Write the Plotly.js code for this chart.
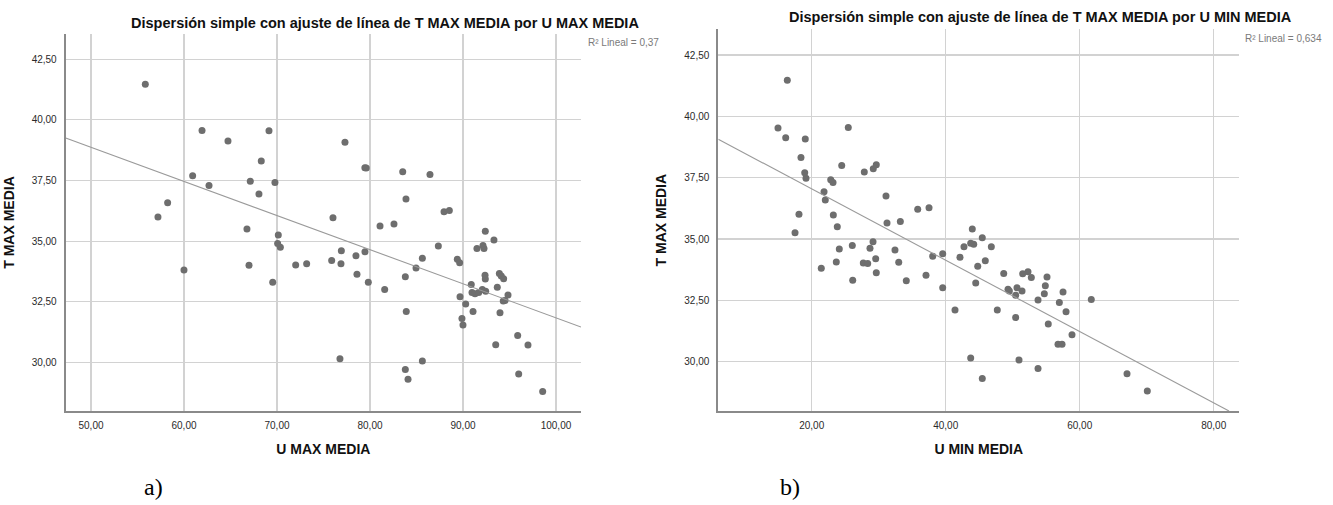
<!DOCTYPE html>
<html>
<head>
<meta charset="utf-8">
<script src="https://cdn.plot.ly/plotly-3.0.1.min.js"></script>
<style>html,body{margin:0;padding:0;background:#fff;}#chart{width:1333px;height:505px;}</style>
</head>
<body>
<div id="chart"></div>
<script>
// ---- Data ----
// a) T MAX MEDIA vs U MAX MEDIA
const uMax = [55.84,61.94,64.73,69.14,77.31,68.31,60.93,62.69,67.13,69.78,68.06,58.24,57.2,76.02,66.77,70.14,
  70.07,70.36,76.92,75.88,76.88,72.01,73.19,66.99,60.0,69.54,76.77,
  79.45,79.6,83.52,86.45,83.87,87.96,88.53,81.08,82.58,92.4,93.33,
  78.49,79.46,78.6,79.82,81.58,83.8,84.95,85.63,87.35,91.5,92.15,92.26,89.39,89.64,
  83.9,83.8,84.09,85.63,90.89,90.97,91.29,91.69,92.08,92.44,92.37,92.4,89.68,90.29,91.08,89.89,90.0,
  93.69,93.91,94.12,94.37,94.84,94.33,94.52,93.98,93.52,95.88,96.99,95.99,98.57];
const tMaxA = [41.47,39.56,39.13,39.55,39.08,38.31,37.70,37.29,37.47,37.42,36.94,36.58,36.0,35.97,35.5,35.25,
  34.90,34.75,34.61,34.2,34.07,34.02,34.07,34.01,33.81,33.31,30.15,
  38.03,38.02,37.86,37.75,36.74,36.21,36.26,35.63,35.71,35.41,35.05,
  34.4,34.56,33.64,33.31,33.01,33.53,33.89,34.3,34.8,34.7,34.82,34.7,34.26,34.11,
  32.1,29.71,29.31,30.06,33.21,32.88,32.83,32.88,33.01,32.94,33.6,33.44,32.71,32.41,32.1,31.81,31.54,
  33.1,33.67,33.56,33.45,32.78,32.53,32.55,32.05,30.73,31.11,30.72,29.52,28.8];
const fitAX = [47.28, 102.69];
const fitAY = [39.25, 31.46];

// b) T MAX MEDIA vs U MIN MEDIA
const uMin = [16.36,14.97,16.12,19.04,25.46,18.4,18.96,19.15,24.48,27.85,29.19,29.64,22.84,23.18,21.84,22.03,
  18.1,23.23,31.09,35.82,37.51,31.24,33.23,17.51,23.82,43.97,45.46,
  29.15,28.7,24.12,26.06,32.43,23.67,21.43,26.12,27.7,28.36,29.55,29.64,32.99,34.12,37.06,38.06,
  39.55,39.55,42.13,42.73,43.73,44.18,46.81,44.78,45.91,44.48,48.66,41.39,47.7,43.73,45.46,
  51.49,52.28,52.78,55.12,54.87,54.72,57.51,56.96,57.96,55.31,58.85,56.76,57.36,61.73,50.94,53.78,
  67.06,70.09,49.3,49.5,50.64,51.39,50.44,53.78,50.44];
const tMaxB = [41.47,39.53,39.13,39.08,39.55,38.32,37.7,37.48,38.0,37.73,37.87,38.03,37.42,37.3,36.93,36.59,
  36.01,35.98,36.75,36.21,36.28,35.65,35.71,35.26,35.5,35.41,35.05,
  34.89,34.62,34.59,34.74,34.55,34.06,33.81,33.32,34.02,34.0,34.2,33.63,34.05,33.3,33.52,34.3,
  34.4,33.01,34.26,34.69,34.83,34.79,34.69,33.89,34.11,33.21,33.6,32.11,32.11,30.15,29.31,
  33.58,33.67,33.43,33.45,33.1,32.77,32.84,32.41,32.04,31.54,31.1,30.71,30.71,32.54,30.07,29.72,
  29.51,28.81,32.95,32.88,33.01,32.88,32.71,32.52,31.8];
const fitBX = [6.06, 82.28];
const fitBY = [39.07, 27.99];

const yTicks = [30, 32.5, 35, 37.5, 40, 42.5];
const xTicksA = [50, 60, 70, 80, 90, 100];
const xTicksB = [20, 40, 60, 80];

const titleA = 'Dispersión simple con ajuste de línea de T MAX MEDIA por U MAX MEDIA';
const titleB = 'Dispersión simple con ajuste de línea de T MAX MEDIA por U MIN MEDIA';
const r2A = 'R² Lineal = 0,37';
const r2B = 'R² Lineal = 0,634';

// ---- Drawing ----
const W = 1333, H = 505;
const px = v => v / W, py = v => (H - v) / H;
const FONT = '"Liberation Sans", Arial, sans-serif';
const markerStyle = {color: '#6e6e6e', size: 7, line: {width: 0}};
const lineStyle = {color: '#9a9a9a', width: 1.1};

const traces = [
  {x: uMax, y: tMaxA, type: 'scatter', mode: 'markers', marker: markerStyle, xaxis: 'x', yaxis: 'y', hoverinfo: 'skip'},
  {x: fitAX, y: fitAY, type: 'scatter', mode: 'lines', line: lineStyle, xaxis: 'x', yaxis: 'y', hoverinfo: 'skip'},
  {x: uMin, y: tMaxB, type: 'scatter', mode: 'markers', marker: markerStyle, xaxis: 'x2', yaxis: 'y2', hoverinfo: 'skip'},
  {x: fitBX, y: fitBY, type: 'scatter', mode: 'lines', line: lineStyle, xaxis: 'x2', yaxis: 'y2', hoverinfo: 'skip'}
];

const axCommon = {
  showline: true, linecolor: '#8a8a8a', linewidth: 2, mirror: false,
  showgrid: true, gridcolor: '#d2d2d2', gridwidth: 1.2,
  zeroline: false, ticks: '', tickformat: '.2f',
  tickfont: {family: FONT, size: 10, color: '#2a2a2a'},
  fixedrange: true
};
const axTitleFont = {family: FONT, size: 14, color: '#111', weight: 'bold'};

const layout = {
  width: W, height: H,
  margin: {l: 0, r: 0, t: 0, b: 0},
  paper_bgcolor: '#fff', plot_bgcolor: '#fff',
  showlegend: false,
  separators: ',.',
  xaxis: Object.assign({}, axCommon, {
    domain: [px(65.7), px(581)], range: [47.28, 102.69], tickvals: xTicksA,
    anchor: 'y', ticklabelstandoff: 4,
    title: {text: 'U MAX MEDIA', font: axTitleFont, standoff: 14}
  }),
  yaxis: Object.assign({}, axCommon, {
    domain: [py(411), py(34)], range: [28.0, 43.54], tickvals: yTicks,
    anchor: 'x', ticklabelstandoff: 5,
    title: {text: 'T MAX MEDIA', font: axTitleFont, standoff: 14}
  }),
  xaxis2: Object.assign({}, axCommon, {
    domain: [px(718.3), px(1239.3)], range: [6.06, 83.82], tickvals: xTicksB,
    anchor: 'y2', ticklabelstandoff: 4,
    title: {text: 'U MIN MEDIA', font: axTitleFont, standoff: 14}
  }),
  yaxis2: Object.assign({}, axCommon, {
    domain: [py(411), py(29.3)], range: [27.99, 43.55], tickvals: yTicks,
    anchor: 'x2', ticklabelstandoff: 5,
    title: {text: 'T MAX MEDIA', font: axTitleFont, standoff: 14}
  }),
  annotations: [
    {text: titleA, xref: 'paper', yref: 'paper', x: px(385), y: py(22.7), xanchor: 'center', yanchor: 'middle', showarrow: false,
     font: {family: FONT, size: 14.5, color: '#111', weight: 'bold'}},
    {text: titleB, xref: 'paper', yref: 'paper', x: px(1040.8), y: py(17.3), xanchor: 'center', yanchor: 'middle', showarrow: false,
     font: {family: FONT, size: 14.5, color: '#111', weight: 'bold'}},
    {text: r2A, xref: 'paper', yref: 'paper', x: px(585.7), y: py(42.7), xanchor: 'left', yanchor: 'middle', showarrow: false,
     font: {family: FONT, size: 10, color: '#7a7a7a'}},
    {text: r2B, xref: 'paper', yref: 'paper', x: px(1243.3), y: py(39), xanchor: 'left', yanchor: 'middle', showarrow: false,
     font: {family: FONT, size: 10, color: '#7a7a7a'}},
    {text: 'a)', xref: 'paper', yref: 'paper', x: px(153), y: py(487), xanchor: 'center', yanchor: 'middle', showarrow: false,
     font: {family: '"Liberation Serif", "Times New Roman", serif', size: 24, color: '#000'}},
    {text: 'b)', xref: 'paper', yref: 'paper', x: px(790), y: py(487), xanchor: 'center', yanchor: 'middle', showarrow: false,
     font: {family: '"Liberation Serif", "Times New Roman", serif', size: 24, color: '#000'}}
  ]
};

Plotly.newPlot('chart', traces, layout, {displayModeBar: false, staticPlot: true});
</script>
</body>
</html>
